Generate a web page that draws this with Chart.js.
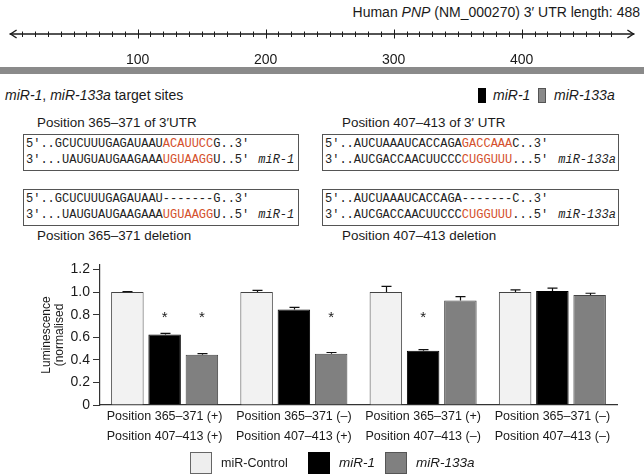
<!DOCTYPE html>
<html>
<head>
<meta charset="utf-8">
<script src="https://cdn.jsdelivr.net/npm/chart.js@4.4.0/dist/chart.umd.min.js"></script>
<style>
  html, body { margin: 0; padding: 0; background: #fff; }
  #fig { position: relative; width: 644px; height: 476px; overflow: hidden;
         font-family: "Liberation Sans", Arial, sans-serif; color: #1a1a1a; }
  .t { position: absolute; white-space: nowrap; }
  .box { position: absolute; box-sizing: border-box; height: 37px; border: 1px solid #555;
         padding: 1px 0 0 2px; }
  .seq { font-family: "Liberation Mono", "Courier New", monospace; font-size: 12px;
         line-height: 16px; white-space: pre; color: #222; }
  .r { color: #d4502c; }
  .mi { font-style: italic; }
  .sw { position: absolute; box-sizing: border-box; }
  canvas { position: absolute; left: 0; }
</style>
</head>
<body>
<div id="fig">
  <div class="t" style="right:4px;top:3px;font-size:14px;line-height:18px;">Human <i>PNP</i> (NM_000270) 3′ UTR length: 488</div>
  <canvas id="rulerChart" width="644" height="44" style="top:20px;"></canvas>
  <div style="position:absolute;left:0;top:67px;width:644px;height:7px;background:#8a8a8a;"></div>

  <div class="t" style="left:5px;top:86px;font-size:14px;line-height:18px;"><i>miR-1</i>, <i>miR-133a</i> target sites</div>
  <div class="sw" style="left:478px;top:88px;width:8px;height:15px;background:#000;"></div>
  <div class="t mi" style="left:493px;top:86px;font-size:14px;line-height:18px;">miR-1</div>
  <div class="sw" style="left:538px;top:88px;width:8px;height:15px;background:#8a8a8a;border:1px solid #555;"></div>
  <div class="t mi" style="left:554px;top:86px;font-size:14px;line-height:18px;">miR-133a</div>

  <!-- site 365-371 -->
  <div class="t" style="left:37px;top:114px;font-size:13.4px;line-height:18px;">Position 365–371 of 3′UTR</div>
  <div class="box" style="left:23px;top:134px;width:276px;">
    <div class="seq">5′..GCUCUUUGAGAUAAU<span class="r">ACAUUCC</span>G..3′</div>
    <div class="seq">3′...UAUGUAUGAAGAAA<span class="r">UGUAAGG</span>U..5′<span class="mi" style="margin-left:9px;">miR-1</span></div>
  </div>
  <div class="box" style="left:23px;top:189px;width:276px;">
    <div class="seq">5′..GCUCUUUGAGAUAAU-------G..3′</div>
    <div class="seq">3′...UAUGUAUGAAGAAA<span class="r">UGUAAGG</span>U..5′<span class="mi" style="margin-left:9px;">miR-1</span></div>
  </div>
  <div class="t" style="left:37px;top:227px;font-size:13.4px;line-height:18px;">Position 365–371 deletion</div>

  <!-- site 407-413 -->
  <div class="t" style="left:342px;top:114px;font-size:13.4px;line-height:18px;">Position 407–413 of 3′ UTR</div>
  <div class="box" style="left:322px;top:134px;width:297px;">
    <div class="seq">5′..AUCUAAAUCACCAGA<span class="r">GACCAAA</span>C..3′</div>
    <div class="seq">3′..AUCGACCAACUUCCC<span class="r">CUGGUUU</span>...5′<span class="mi" style="margin-left:10px;">miR-133a</span></div>
  </div>
  <div class="box" style="left:322px;top:189px;width:297px;">
    <div class="seq">5′..AUCUAAAUCACCAGA-------C..3′</div>
    <div class="seq">3′..AUCGACCAACUUCCC<span class="r">CUGGUUU</span>...5′<span class="mi" style="margin-left:10px;">miR-133a</span></div>
  </div>
  <div class="t" style="left:342px;top:227px;font-size:13.4px;line-height:18px;">Position 407–413 deletion</div>

  <canvas id="lumChart" width="644" height="205" style="top:250px;"></canvas>

  <div class="sw" style="left:190px;top:452px;width:22px;height:22px;background:#eeeeee;border:1px solid #666;"></div>
  <div class="t" style="left:221px;top:454px;font-size:12.5px;line-height:18px;">miR-Control</div>
  <div class="sw" style="left:308px;top:452px;width:22px;height:22px;background:#000;"></div>
  <div class="t mi" style="left:339px;top:454px;font-size:13.5px;line-height:18px;">miR-1</div>
  <div class="sw" style="left:385px;top:452px;width:22px;height:22px;background:#808080;border:1px solid #555;"></div>
  <div class="t mi" style="left:416px;top:454px;font-size:13.5px;line-height:18px;">miR-133a</div>
</div>

<script>
(function () {
  'use strict';

  // 3' UTR ruler
  var UTR_LENGTH = 488;
  var RULER_LABELS = [100, 200, 300, 400];
  var RULER_STEP = 10;

  // Luciferase assay groups (two label lines each)
  var GROUP_LABELS = [
    ['Position 365–371 (+)', 'Position 407–413 (+)'],
    ['Position 365–371 (–)', 'Position 407–413 (+)'],
    ['Position 365–371 (+)', 'Position 407–413 (–)'],
    ['Position 365–371 (–)', 'Position 407–413 (–)']
  ];
  var CONTROL     = [1.00, 1.00, 1.00, 1.00];
  var CONTROL_ERR = [0.005, 0.015, 0.05, 0.02];
  var MIR1        = [0.625, 0.845, 0.48, 1.01];
  var MIR1_ERR    = [0.01, 0.02, 0.01, 0.025];
  var MIR133A     = [0.445, 0.455, 0.925, 0.975];
  var MIR133A_ERR = [0.01, 0.01, 0.035, 0.015];
  var MIR1_SIG    = [true, false, true, false];
  var MIR133A_SIG = [true, true, false, false];
  var Y_TICKS = [0, 0.2, 0.4, 0.6, 0.8, 1.0, 1.2];
  var STAR_LEVEL = 0.8;

  var INK = '#1a1a1a';
  Chart.defaults.font.family = "'Liberation Sans', Arial, sans-serif";
  Chart.defaults.color = INK;

  // Ruler: axis line, ticks crossing it, arrow heads at both ends
  var rulerPlugin = {
    id: 'ruler',
    afterDraw: function (chart) {
      var ctx = chart.ctx;
      var sx = chart.scales.x;
      var y = chart.chartArea.bottom;
      var x0 = sx.getPixelForValue(0);
      var x1 = sx.getPixelForValue(UTR_LENGTH);
      ctx.save();
      ctx.strokeStyle = INK;
      ctx.lineWidth = 1.4;
      ctx.beginPath();
      ctx.moveTo(x0, y);
      ctx.lineTo(x1, y);
      ctx.stroke();
      ctx.lineWidth = 1;
      sx.ticks.forEach(function (t) {
        if (t.value <= 0 || t.value >= UTR_LENGTH) return;
        var px = Math.round(sx.getPixelForValue(t.value)) + 0.5;
        var major = RULER_LABELS.indexOf(t.value) >= 0;
        ctx.beginPath();
        ctx.moveTo(px, y - (major ? 4.5 : 2.5));
        ctx.lineTo(px, y + (major ? 4.5 : 3));
        ctx.stroke();
      });
      ctx.lineWidth = 1.4;
      ctx.beginPath();
      ctx.moveTo(x0 + 7, y - 4); ctx.lineTo(x0 + 1, y); ctx.lineTo(x0 + 7, y + 4);
      ctx.moveTo(x1 - 7, y - 4); ctx.lineTo(x1 - 1, y); ctx.lineTo(x1 - 7, y + 4);
      ctx.stroke();
      ctx.restore();
    }
  };

  new Chart(document.getElementById('rulerChart').getContext('2d'), {
    type: 'scatter',
    data: { datasets: [] },
    options: {
      responsive: false,
      animation: false,
      layout: { padding: { top: 4, left: 1, right: 2, bottom: 0 } },
      plugins: { legend: { display: false }, tooltip: { enabled: false } },
      scales: {
        x: {
          type: 'linear',
          min: 0,
          max: UTR_LENGTH,
          grid: { display: false },
          border: { display: false },
          ticks: {
            stepSize: RULER_STEP,
            autoSkip: false,
            maxRotation: 0,
            padding: 9.6,
            font: { size: 14, lineHeight: 1.2 },
            callback: function (v) { return RULER_LABELS.indexOf(v) >= 0 ? String(v) : ''; }
          },
          afterFit: function (s) { s.height = 30; }
        },
        y: { display: false }
      }
    },
    plugins: [rulerPlugin]
  });

  // Error bars (upper whisker only) and significance stars
  var ERRS = [CONTROL_ERR, MIR1_ERR, MIR133A_ERR];
  var SIGS = [null, MIR1_SIG, MIR133A_SIG];

  var errorBarPlugin = {
    id: 'errorBars',
    afterDatasetsDraw: function (chart) {
      var ctx = chart.ctx;
      var sy = chart.scales.y;
      ctx.save();
      chart.data.datasets.forEach(function (ds, di) {
        var meta = chart.getDatasetMeta(di);
        meta.data.forEach(function (bar, i) {
          var top = sy.getPixelForValue(ds.data[i] + ERRS[di][i]);
          var x = Math.round(bar.x) + 0.5;
          ctx.strokeStyle = '#111';
          ctx.lineWidth = 1.2;
          ctx.beginPath();
          ctx.moveTo(x, bar.y);
          ctx.lineTo(x, top);
          ctx.moveTo(x - 5, top);
          ctx.lineTo(x + 5, top);
          ctx.stroke();
          if (SIGS[di] && SIGS[di][i]) {
            ctx.fillStyle = INK;
            ctx.font = '15px "Liberation Sans", Arial, sans-serif';
            ctx.textAlign = 'center';
            ctx.textBaseline = 'middle';
            ctx.fillText('*', bar.x, sy.getPixelForValue(STAR_LEVEL) + 3);
          }
        });
      });
      ctx.restore();
    }
  };

  new Chart(document.getElementById('lumChart').getContext('2d'), {
    type: 'bar',
    data: {
      labels: GROUP_LABELS,
      datasets: [
        { label: 'miR-Control', data: CONTROL, backgroundColor: '#f2f2f2', borderColor: '#444', borderWidth: 1 },
        { label: 'miR-1', data: MIR1, backgroundColor: '#000000', borderColor: '#000000', borderWidth: 1 },
        { label: 'miR-133a', data: MIR133A, backgroundColor: '#808080', borderColor: '#444', borderWidth: 1 }
      ]
    },
    options: {
      responsive: false,
      animation: false,
      categoryPercentage: 0.865,
      barPercentage: 0.872,
      layout: { padding: { top: 15, right: 27, left: 0, bottom: 0 } },
      plugins: { legend: { display: false }, tooltip: { enabled: false } },
      scales: {
        x: {
          grid: { display: false, drawTicks: false },
          border: { display: true, color: '#333', width: 1.2 },
          ticks: { padding: 2, maxRotation: 0, autoSkip: false, font: { size: 12.5, lineHeight: 1.6 } },
          afterFit: function (s) { s.height = 50; }
        },
        y: {
          min: 0,
          max: 1.24,
          afterBuildTicks: function (s) { s.ticks = Y_TICKS.map(function (v) { return { value: v }; }); },
          grid: { drawOnChartArea: false, drawTicks: true, tickLength: 7, color: '#333' },
          border: { display: true, color: '#333', width: 1.2 },
          ticks: {
            padding: 3,
            font: { size: 14 },
            callback: function (v) { return v === 0 ? '0' : v.toFixed(1); }
          },
          title: {
            display: true,
            text: ['Luminescence', '(normalised'],
            font: { size: 12, lineHeight: 1.0833 },
            padding: { top: 40.5, bottom: 0 }
          },
          afterFit: function (s) { s.width = 100; }
        }
      }
    },
    plugins: [errorBarPlugin]
  });
})();
</script>
</body>
</html>
